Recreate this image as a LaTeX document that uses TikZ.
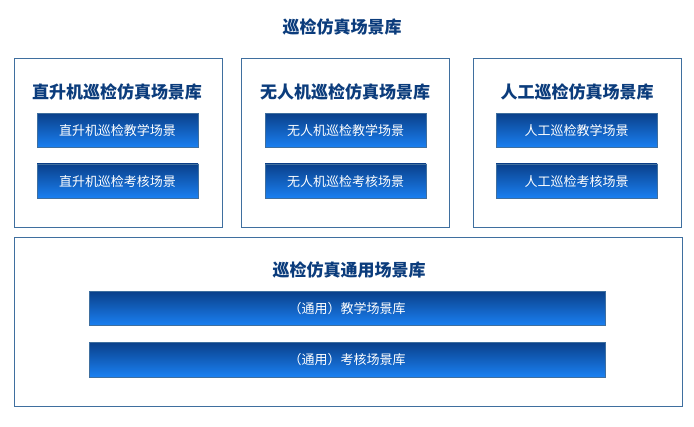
\documentclass[tikz,border=0pt]{standalone}
\usepackage{fontspec}
\setmainfont{Noto Sans CJK SC}
\usetikzlibrary{positioning}
\definecolor{frameblue}{HTML}{3F6F9F}
\definecolor{titleblue}{HTML}{0B3C7C}
\definecolor{btntop}{HTML}{0A408A}
\definecolor{btnbot}{HTML}{1A80F2}

\begin{document}
\begin{tikzpicture}[x=1pt, y=-1pt, node distance=15.5pt,
    panel/.style={draw=frameblue, line width=0.9pt, minimum height=169pt, inner sep=0pt},
    title/.style={text=titleblue, font=\fontsize{17}{20}\selectfont\bfseries, inner sep=0pt},
    btn/.style={draw=frameblue, line width=0.6pt, top color=btntop, bottom color=btnbot,
        text=white, font=\fontsize{13}{15}\selectfont, minimum height=34.5pt, inner sep=0pt},
    smallbtn/.style={btn, minimum width=161pt},
    widebtn/.style={btn, minimum width=516pt}]
    \useasboundingbox (0,0) rectangle (694,427);

    \node[title] (main) at (342,27) {巡检仿真场景库};

    % three upper libraries
    \node[panel, minimum width=208pt] (heli) at (118,142.5) {};
    \node[panel, minimum width=208pt] (uav) at (345,142.5) {};
    \node[panel, minimum width=208pt] (man) at (577,142.5) {};

    \node[title] (heliT) at (117,92) {直升机巡检仿真场景库};
    \node[title] (uavT) at (345,92) {无人机巡检仿真场景库};
    \node[title] (manT) at (577,92) {人工巡检仿真场景库};

    \node[smallbtn] (heliA) at (117.5,130.5) {直升机巡检教学场景};
    \node[smallbtn] (heliB) [below=of heliA] {直升机巡检考核场景};
    \node[smallbtn] (uavA) at (345.5,130.5) {无人机巡检教学场景};
    \node[smallbtn] (uavB) [below=of uavA] {无人机巡检考核场景};
    \node[smallbtn] (manA) at (576.5,130.5) {人工巡检教学场景};
    \node[smallbtn] (manB) [below=of manA] {人工巡检考核场景};

    % common library
    \node[panel, minimum width=668pt] (common) at (348,321.5) {};
    \node[title] (commonT) at (349,270) {巡检仿真通用场景库};
    \node[widebtn] (commonA) at (347,308.5) {（通用）教学场景库};
    \node[widebtn] (commonB) [below=16pt of commonA] {（通用）考核场景库};
\end{tikzpicture}
\end{document}
